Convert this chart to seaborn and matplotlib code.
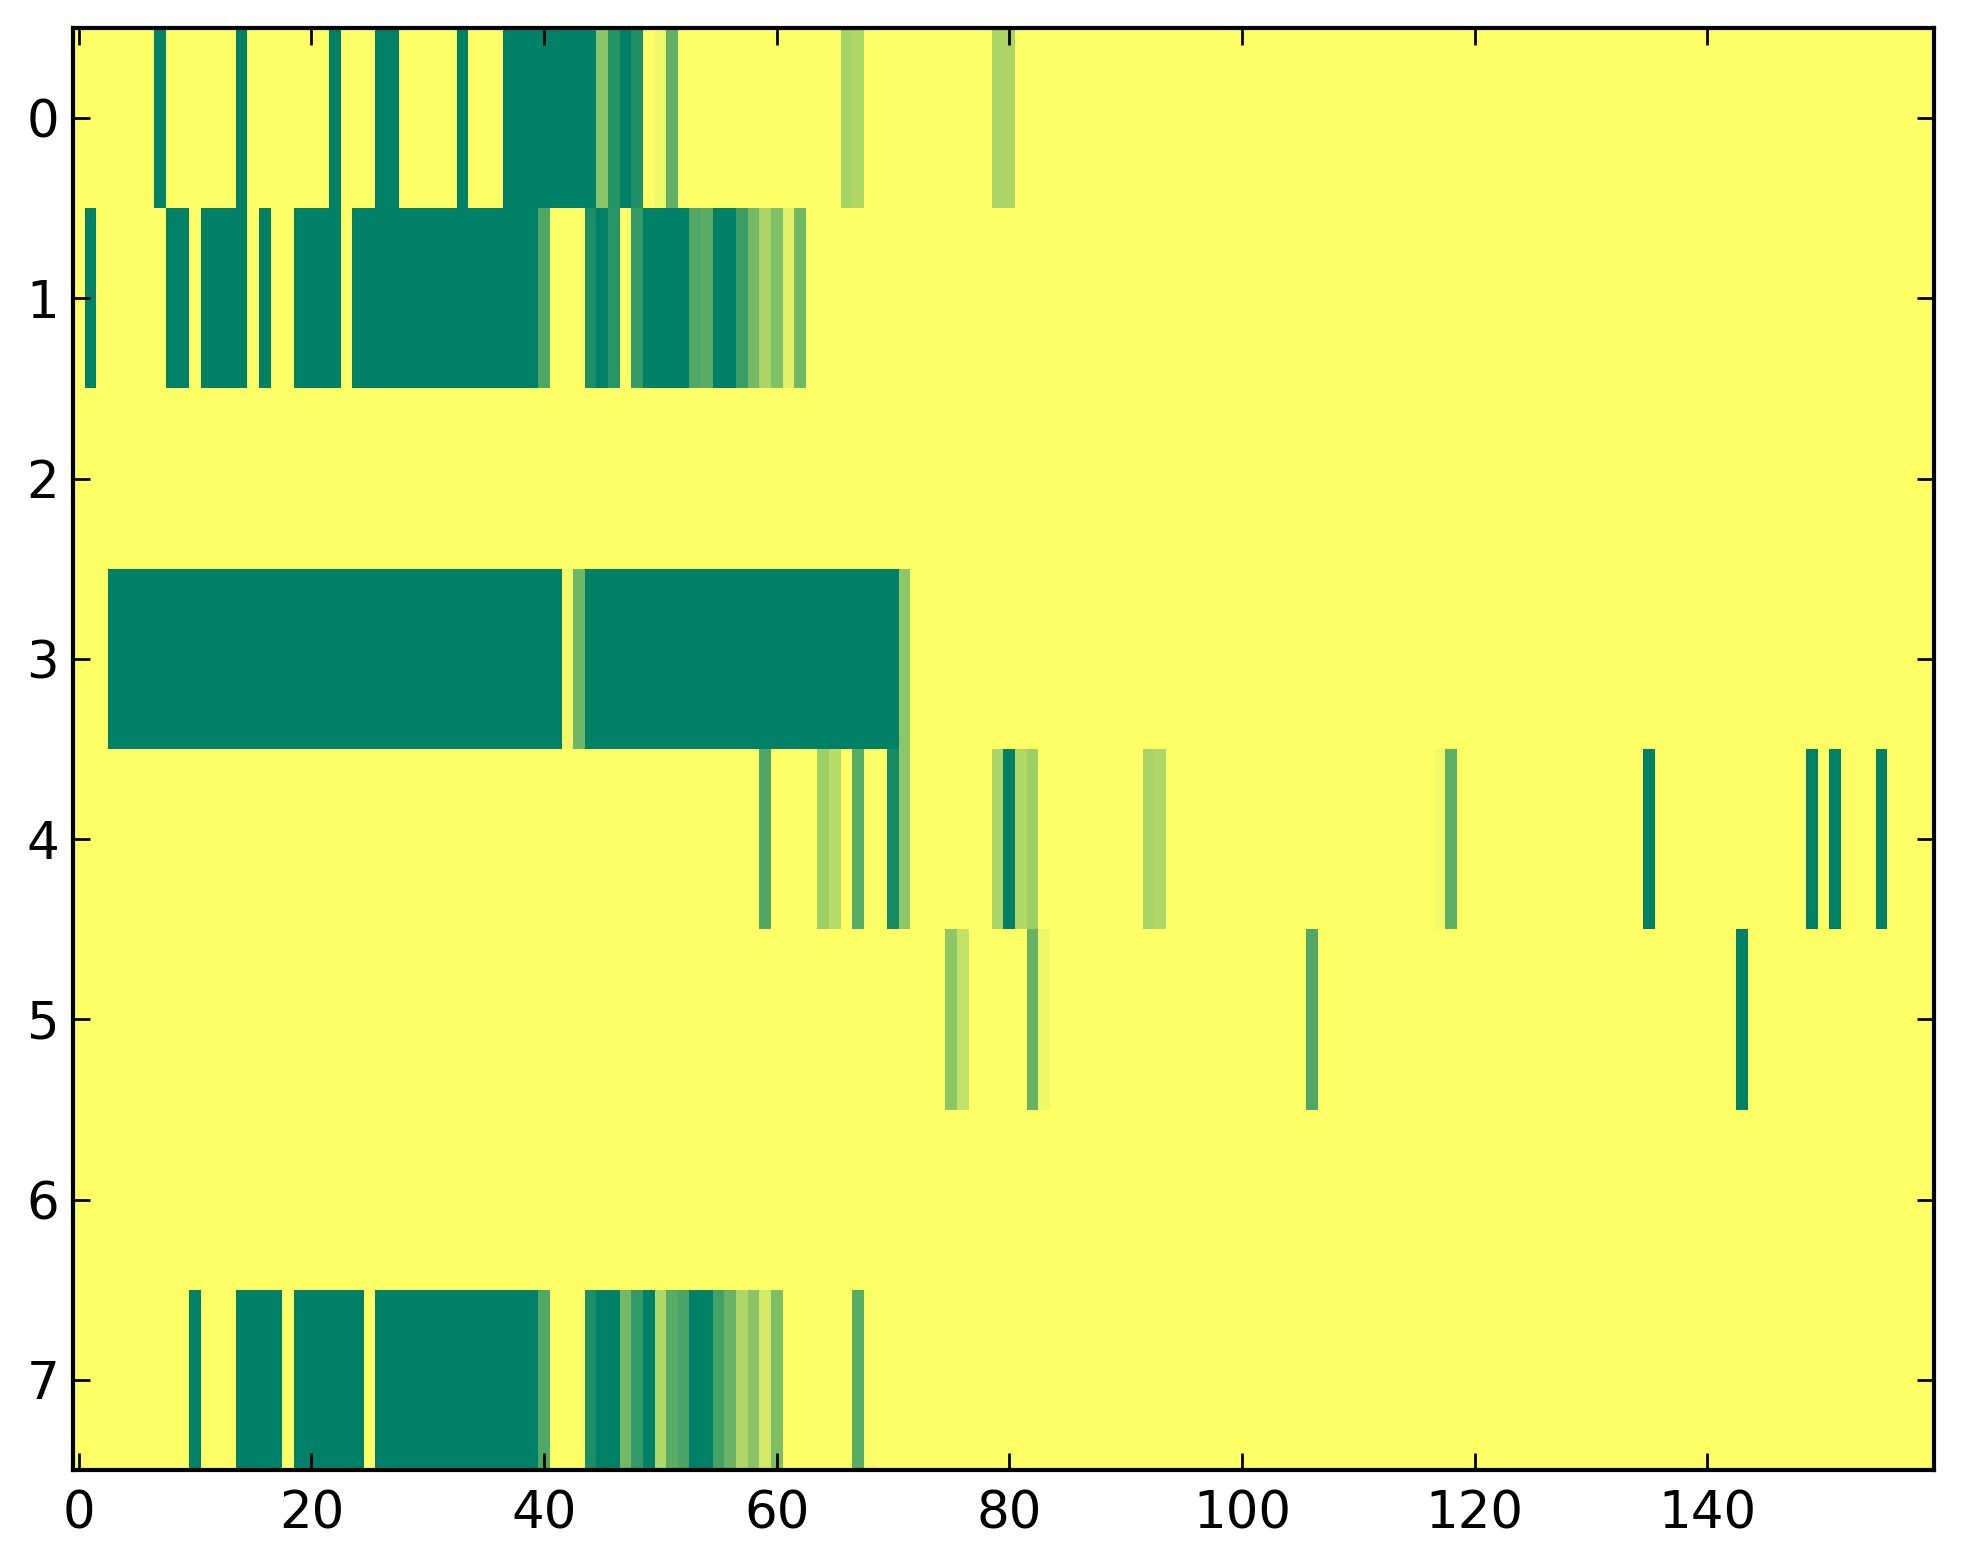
import numpy as np
import pandas as pd
import matplotlib
matplotlib.use("Agg")
import matplotlib.pyplot as plt
import seaborn as sns

# Grid size and tick labels
n_cols = 160
row_labels = [0, 1, 2, 3, 4, 5, 6, 7]
x_tick_labels = [0, 20, 40, 60, 80, 100, 120, 140]


def run(start, stop, value=0.0):
    # columns start..stop (inclusive) with the same value
    return dict.fromkeys(range(start, stop + 1), value)


# Non-yellow cells of each row: column -> value (all other cells are 1.0)
row_0 = {7: 0.0, 14: 0.0, 22: 0.0, 26: 0.0, 27: 0.0, 33: 0.0,
         **run(37, 44),
         45: 0.54, 46: 0.15, 47: 0.0, 48: 0.12, 50: 0.94, 51: 0.38,
         66: 0.65, 67: 0.68, 79: 0.67, 80: 0.67}
row_1 = {1: 0.0, 8: 0.0, 9: 0.0, **run(11, 14), 16: 0.0,
         **run(19, 22), **run(24, 39),
         40: 0.31, 44: 0.11, 45: 0.0, 46: 0.16, 48: 0.21,
         **run(49, 52), 53: 0.32, 54: 0.36, 55: 0.0, 56: 0.0,
         57: 0.23, 58: 0.46, 59: 0.67, 60: 0.50, 61: 0.89, 62: 0.44}
row_2 = {}
row_3 = {**run(3, 41), 42: 0.95, 43: 0.43, **run(44, 70), 71: 0.55}
row_4 = {59: 0.32, 64: 0.62, 65: 0.71, 67: 0.35, 68: 0.97, 70: 0.09,
         71: 0.55, 79: 0.67, 80: 0.0, 81: 0.69, 82: 0.61, 92: 0.66,
         93: 0.68, 117: 0.95, 118: 0.37, 135: 0.0, 149: 0.0, 151: 0.0,
         155: 0.0}
row_5 = {75: 0.55, 76: 0.76, 82: 0.40, 83: 0.93, 106: 0.32, 143: 0.0}
row_6 = {}
row_7 = {10: 0.0, **run(14, 17), **run(19, 24), **run(26, 39),
         40: 0.32, 44: 0.11, 45: 0.0, 46: 0.0, 47: 0.45, 48: 0.20,
         49: 0.0, 50: 0.69, 51: 0.35, 52: 0.29, 53: 0.0, 54: 0.0,
         55: 0.27, 56: 0.41, 57: 0.68, 58: 0.54, 59: 0.83, 60: 0.49,
         67: 0.35, 68: 0.97}

rows = [row_0, row_1, row_2, row_3, row_4, row_5, row_6, row_7]

grid = np.ones((len(rows), n_cols))
for r, cells in enumerate(rows):
    for c, v in cells.items():
        grid[r, c] = v
df = pd.DataFrame(grid, index=row_labels)

fig = plt.figure(figsize=(1963 / 200, 1564 / 200), dpi=200)
ax = fig.add_axes([0.0372, 0.0601, 0.9480, 0.9220])

sns.heatmap(
    df,
    cmap="summer",
    vmin=0,
    vmax=1,
    cbar=False,
    xticklabels=False,
    yticklabels=False,
    ax=ax
)

# imshow-like ticks at cell centres
ax.set_xticks([t + 0.5 for t in x_tick_labels])
ax.set_xticklabels([str(t) for t in x_tick_labels])
ax.set_yticks([r + 0.5 for r in row_labels])
ax.set_yticklabels([str(r) for r in row_labels], rotation=0)

for s in ax.spines.values():
    s.set_visible(True)
    s.set_color("black")
    s.set_linewidth(1.5)

ax.tick_params(direction="in", top=True, right=True, length=6, width=1,
               labelsize=18.5, colors="black")
ax.tick_params(axis="y", pad=5)
ax.tick_params(axis="x", pad=7)

fig.savefig("out.png", dpi=200)
